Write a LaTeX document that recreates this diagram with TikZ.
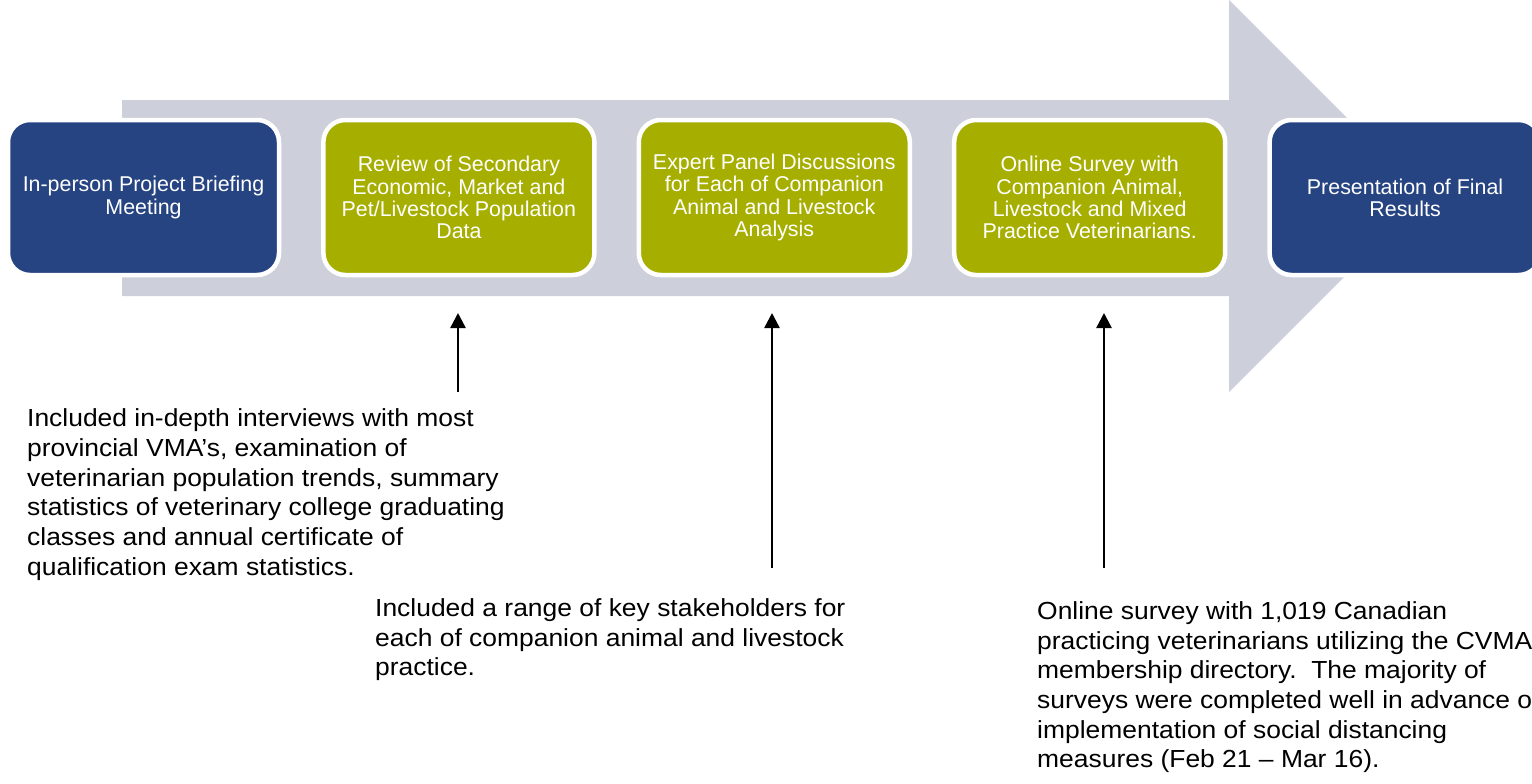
\documentclass[tikz,border=0pt]{standalone}
\usepackage{fontspec}
\setmainfont{Liberation Sans}
\newfontfamily\notefont[FakeStretch=1.07]{Liberation Sans}
\usetikzlibrary{arrows.meta}
\definecolor{navy}{HTML}{264482}
\definecolor{olive}{HTML}{A6AE00}
\definecolor{arrowgray}{HTML}{CDD0DA}
\tikzset{
  stepbox/.style={draw=white, line width=4.5pt, rounded corners=22pt,
    minimum width=271pt, minimum height=155pt, inner sep=0pt,
    text=white, align=center, font=\fontsize{21.4}{22.2}\selectfont},
  navybox/.style={stepbox, fill=navy},
  olivebox/.style={stepbox, fill=olive},
  note/.style={align=left, anchor=base west, inner sep=0pt,
    font=\notefont\fontsize{24.7}{29.7}\selectfont},
  uparrow/.style={line width=2.5pt, -{Triangle[length=15pt,width=15pt]}}
}
\begin{document}
\begin{tikzpicture}[x=1pt,y=-1pt]
\useasboundingbox (0,0) rectangle (1532,784);
\clip (0,0) rectangle (1532,784);
% big background arrow
\fill[arrowgray] (122,100) -- (1229,100) -- (1229,0) -- (1425,196) -- (1229,392) -- (1229,296) -- (122,296) -- cycle;
% steps
\node[navybox]  (b1) at (143.5,197.5) {In-person Project Briefing\\Meeting};
\node[olivebox] (b2) at (458.9,197.5) {Review of Secondary\\Economic, Market and\\Pet/Livestock Population\\Data};
\node[olivebox] (b3) at (774.3,197.5) {Expert Panel Discussions\\for Each of Companion\\Animal and Livestock\\Analysis};
\node[olivebox] (b4) at (1089.7,197.5) {Online Survey with\\Companion Animal,\\Livestock and Mixed\\Practice Veterinarians.};
\node[navybox]  (b5) at (1405.1,197.5) {Presentation of Final\\Results};
% notes (anchored at the baseline of their last line)
\node[note] (t1) at (27,575.2) {Included in-depth interviews with most\\provincial VMA’s, examination of\\veterinarian population trends, summary\\statistics of veterinary college graduating\\classes and annual certificate of\\qualification exam statistics.};
\node[note] (t2) at (375,675.9) {Included a range of key stakeholders for\\each of companion animal and livestock\\practice.};
\node[note] (t3) at (1037,767.8) {Online survey with 1,019 Canadian\\practicing veterinarians utilizing the CVMA\\membership directory.\ \ The majority of\\surveys were completed well in advance of\\implementation of social distancing\\measures (Feb 21 – Mar 16).};
% arrows
\coordinate (a1s) at (458,392);
\coordinate (a1e) at (458,313);
\coordinate (a2s) at (772,568);
\coordinate (a2e) at (772,313);
\coordinate (a3s) at (1104,568);
\coordinate (a3e) at (1104,313);
\draw[uparrow] (a1s) -- (a1e);
\draw[uparrow] (a2s) -- (a2e);
\draw[uparrow] (a3s) -- (a3e);
\end{tikzpicture}
\end{document}
